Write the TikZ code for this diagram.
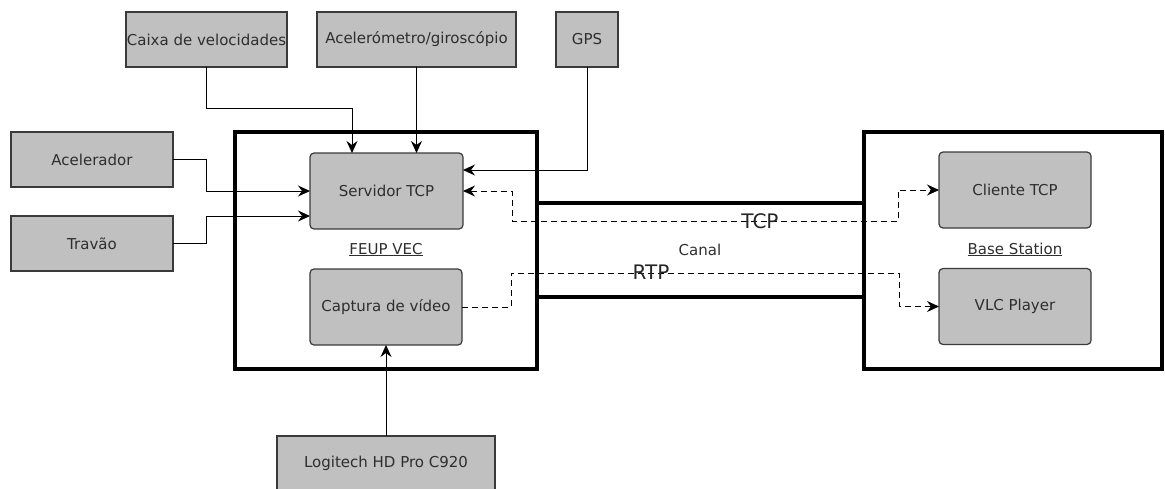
\documentclass[tikz,border=0pt]{standalone}
\usepackage{fontspec}
\setmainfont{DejaVu Sans}
\usetikzlibrary{arrows.meta,calc}
\definecolor{boxfill}{HTML}{C0C0C0}
\definecolor{boxline}{HTML}{3A3A3A}
\definecolor{txt}{HTML}{2E2E2E}

\begin{document}
\begin{tikzpicture}[x=1pt,y=-1pt,
  >={Stealth[length=12pt,width=11pt,inset=4pt]},
  every node/.style={inner sep=0pt, outer sep=0pt},
  ext/.style={draw=boxline, line width=1.2pt, fill=boxfill, text=txt,
    font=\fontsize{15}{18}\selectfont, minimum height=55pt},
  mod/.style={ext, rounded corners=4pt, minimum width=152pt, minimum height=76pt},
  frame/.style={draw=black, line width=4.5pt, minimum height=237pt},
  link/.style={draw=black, line width=1pt, ->},
  flow/.style={draw=black, line width=1pt, dash pattern=on 6pt off 4pt},
  tag/.style={font=\fontsize{20}{24}\selectfont, text=black!85},
  lbl/.style={font=\fontsize{15}{18}\selectfont, text=txt}
]
\useasboundingbox (0,0) rectangle (1165,488);
\clip (0,0) rectangle (1165,488);

% sensors and inputs
\node[ext, minimum width=161pt] (caixa) at (206.5,39.5) {Caixa de velocidades};
\node[ext, minimum width=199pt] (acel) at (416.5,39.5) {Acelerómetro/giroscópio};
\node[ext, minimum width=62pt] (gps) at (587,39.5) {GPS};
\node[ext, minimum width=162pt] (acelerador) at (92,159.5) {Acelerador};
\node[ext, minimum width=162pt] (travao) at (92,243.5) {Travão};
\node[ext, minimum width=218pt] (logitech) at (386,463.5) {Logitech HD Pro C920};

% vehicle, channel and base station frames
\node[frame, minimum width=302pt] (vec) at (386,250.5) {};
\node[frame, minimum width=298pt] (base) at (1013,250.5) {};
\node[frame, minimum width=327pt, minimum height=94pt] (canal) at (700.5,250) {};

% software modules
\node[mod, minimum width=153pt] (servidor) at (386.5,191) {Servidor TCP};
\node[mod] (captura) at (386,307) {Captura de vídeo};
\node[mod] (cliente) at (1015,190) {Cliente TCP};
\node[mod] (vlc) at (1015,306.5) {VLC Player};

% frame captions
\node[lbl, anchor=base] (vecl) at (386,254) {\underline{FEUP VEC}};
\node[lbl, anchor=base] (basel) at (1015,254) {\underline{Base Station}};
\node[lbl] (canall) at (700,250) {Canal};

% sensor links into the server
\draw[link] (caixa.south) -- ++(0,41) -| ([xshift=-34.5pt]servidor.north);
\draw[link] (acel.south) -- ([xshift=30pt]servidor.north);
\draw[link] (gps.south) |- ([yshift=21pt]servidor.east);
\draw[link] (acelerador.east) -- ++(33,0) |- (servidor.west);
\draw[link] (travao.east) -- ++(33,0) |- ([yshift=-25pt]servidor.west);
\draw[link] (logitech.north) -- (captura.south);

% network flows across the channel
\draw[flow, <->] (servidor.east) -- ++(49,0) -- ++(0,30)
  -| ([xshift=-41pt]cliente.west) -- (cliente.west);
\draw[flow, ->] (captura.east) -- ++(49,0) -- ++(0,-34)
  -| ([xshift=-40pt]vlc.west) -- (vlc.west);

\node[tag] (tcp) at (760,221) {TCP};
\node[tag] (rtp) at (651,272.7) {RTP};
\end{tikzpicture}
\end{document}
